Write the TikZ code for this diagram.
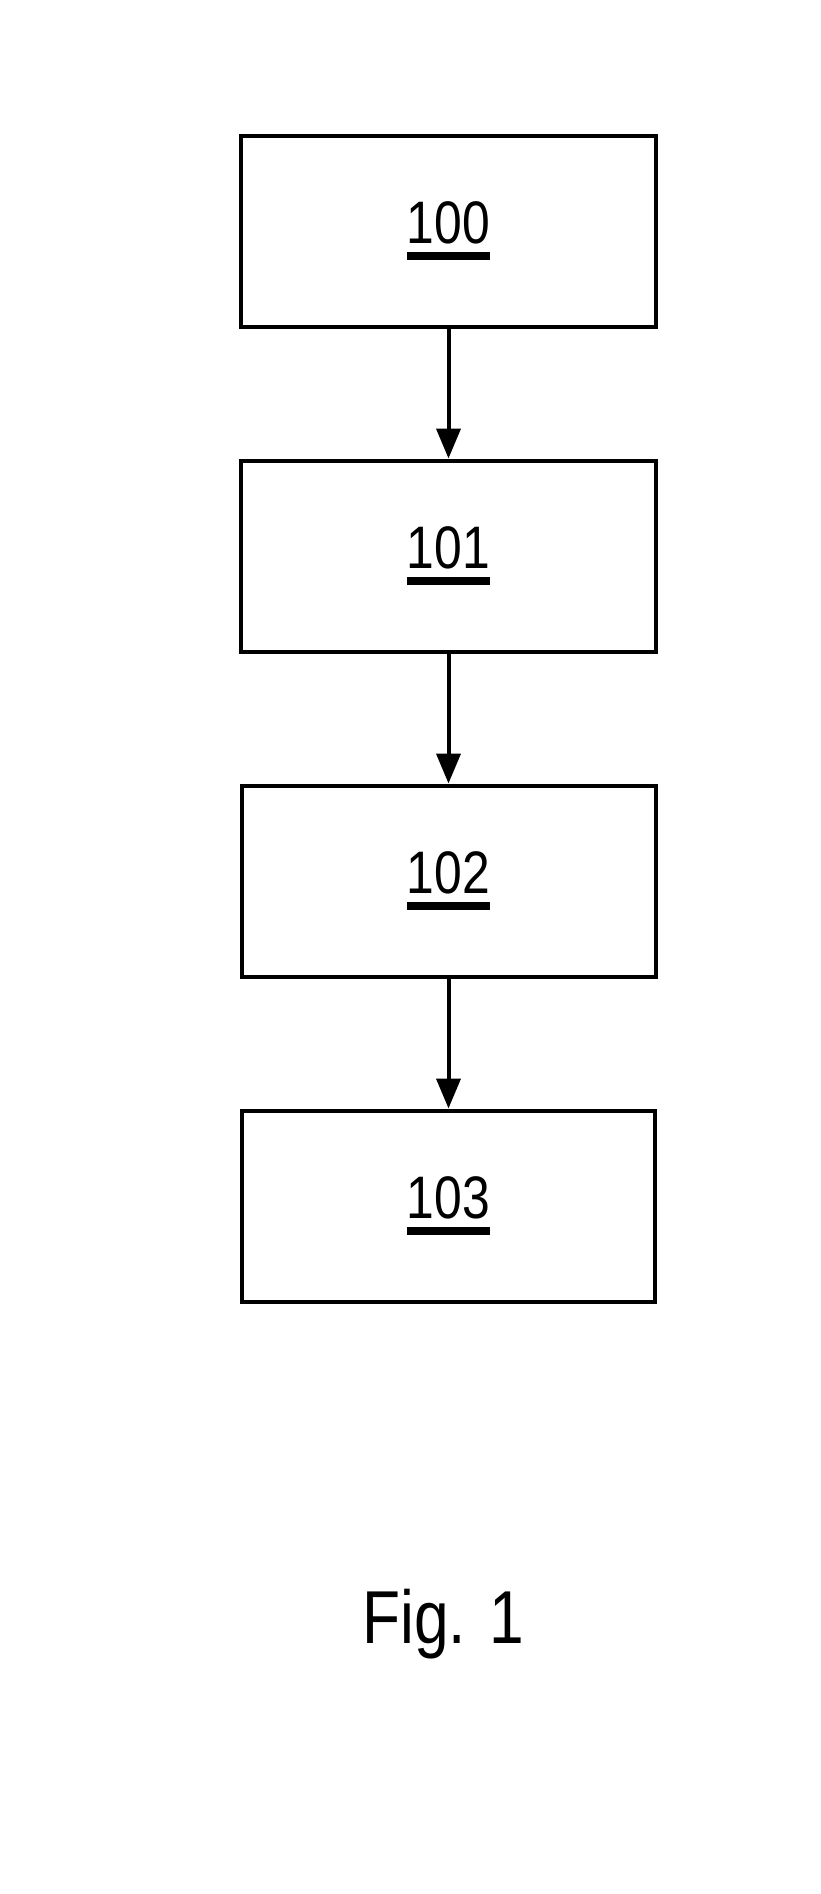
\documentclass[tikz,border=0pt]{standalone}
\usepackage{fontspec}
\setmainfont{Liberation Sans}[FakeStretch=0.83]
\usetikzlibrary{arrows.meta}
\newcommand\ulnum[1]{\setbox0\hbox{#1}\rlap{\raisebox{-16.7pt}{\rule{\wd0}{8pt}}}\box0}
\tikzset{
  stepbox/.style={draw, line width=4pt, minimum width=415pt, minimum height=191pt, inner sep=0pt},
  lbl/.style={anchor=base, inner sep=0pt, font=\fontsize{60pt}{60pt}\selectfont},
  flow/.style={line width=4pt, -{Triangle[length=30pt,width=24pt]}}
}
\begin{document}
\begin{tikzpicture}[x=1pt,y=-1pt]
\useasboundingbox (0,0) rectangle (820,1894);
\node[stepbox] (b100) at (448.5,231.8) {};
\node[stepbox] (b101) at (448.5,556) {};
\node[stepbox, minimum width=414pt] (b102) at (448.5,881) {};
\node[stepbox, minimum width=413pt] (b103) at (448.5,1206) {};
\node[lbl] (t100) at ([yshift=-12pt]b100.center) {\ulnum{100}};
\node[lbl] (t101) at ([yshift=-12pt]b101.center) {\ulnum{101}};
\node[lbl] (t102) at ([yshift=-12pt]b102.center) {\ulnum{102}};
\node[lbl] (t103) at ([yshift=-12pt]b103.center) {\ulnum{103}};
\draw[flow] (b100.south) -- (b101.north);
\draw[flow] (b101.south) -- (b102.north);
\draw[flow] (b102.south) -- (b103.north);
\node[anchor=base, inner sep=0pt, font=\fontsize{75pt}{75pt}\selectfont] (fig) at (443,1643) {Fig. 1};
\end{tikzpicture}
\end{document}
